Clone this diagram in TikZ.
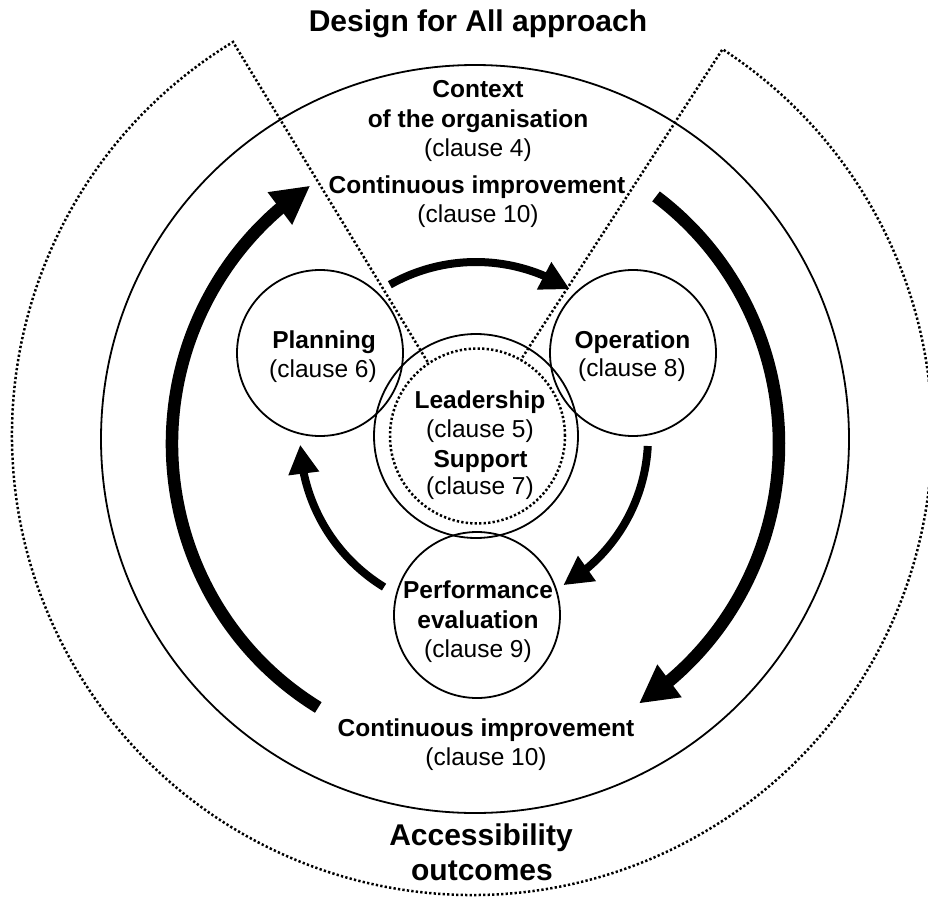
\documentclass[tikz,border=0pt]{standalone}
\usepackage{fontspec}
\setmainfont{Liberation Sans}
\usetikzlibrary{arrows.meta,bending}
\begin{document}
\begin{tikzpicture}[x=1pt,y=-1pt,
  dots/.style={line width=2.5pt, dash pattern=on 2.3pt off 2.2pt},
  bigarrow/.style={line width=12.5pt, -{Triangle[length=38pt,width=38pt]}},
  smallarrow/.style={line width=8pt, -{Triangle[length=29pt,width=29pt]}},
  bline/.style={font=\fontsize{24.5}{29}\selectfont\bfseries, anchor=base, inner sep=0},
  rline/.style={font=\fontsize{24.5}{29}\selectfont, anchor=base, inner sep=0},
  tline/.style={font=\fontsize{30}{36}\selectfont\bfseries, anchor=base, inner sep=0},
  circ/.style={circle, draw, line width=1.8pt, minimum size=166pt, inner sep=0}
]
\useasboundingbox (0,0) rectangle (928,899);
\clip (0,0) rectangle (928,899);
\fill[white] (0,0) rectangle (928,899);

\coordinate (D) at (472,435);
\coordinate (E) at (475.5,444);
\coordinate (L) at (476,437);

% dotted outer region (pie with the top wedge removed)
\draw[dots] (D) -- ++(-121.3:460) arc[start angle=-121.3, end angle=-417, radius=460] -- cycle;

% big solid circle
\node[circle, draw, line width=1.8pt, minimum size=748pt, inner sep=0] (ctx) at (475,439) {};

% big arrows
\draw[bigarrow] (E) ++({303.5*cos(-238.8)},{308*sin(-238.8)}) arc[start angle=-238.8, end angle=-123, x radius=303.5, y radius=308];
\draw[bigarrow] (E) ++({303.5*cos(-53.5)},{308*sin(-53.5)}) arc[start angle=-53.5, end angle=57.4, x radius=303.5, y radius=308];

% small arrows
\draw[smallarrow] (L) ++(-119.5:175) arc[start angle=-119.5, end angle=-57.6, radius=175];
\draw[smallarrow] (L) ++(3:172) arc[start angle=3, end angle=59.5, radius=172];
\draw[smallarrow] (L) ++(-238.5:176) arc[start angle=-238.5, end angle=-182.5, radius=176];

% circles
\node[circ] (plan) at (320,353) {};
\node[circ] (oper) at (633,353) {};
\node[circ] (perf) at (477,615) {};
\node[circle, draw, line width=1.8pt, minimum size=204pt, inner sep=0] (lead) at (476,436) {};
\node[circle, draw, fill=white, dots, minimum size=175pt, inner sep=0] (supp) at (477.5,436) {};

% texts
\node[tline] (title) at (478,32) {Design for All approach};
\node[bline] (ctxa) at (478,97) {Context};
\node[bline] (ctxb) at (478,127) {of the organisation};
\node[rline] (ctxc) at (478,156) {(clause 4)};
\node[bline] (cita) at (477,193) {Continuous improvement};
\node[rline] (citb) at (478,222) {(clause 10)};
\node[bline] (plana) at (324,348) {Planning};
\node[rline] (planb) at (323,377) {(clause 6)};
\node[bline] (opera) at (632.5,348) {Operation};
\node[rline] (operb) at (632,376) {(clause 8)};
\node[bline] (leada) at (480,408) {Leadership};
\node[rline] (leadb) at (480,437) {(clause 5)};
\node[bline] (suppa) at (480.5,467) {Support};
\node[rline] (suppb) at (480,494) {(clause 7)};
\node[bline] (perfa) at (478,598) {Performance};
\node[bline] (perfb) at (478,628) {evaluation};
\node[rline] (perfc) at (478,657) {(clause 9)};
\node[bline] (ciba) at (486,736) {Continuous improvement};
\node[rline] (cibb) at (486,765) {(clause 10)};
\node[tline] (outa) at (481,845) {Accessibility};
\node[tline] (outb) at (482,880) {outcomes};
\end{tikzpicture}
\end{document}
